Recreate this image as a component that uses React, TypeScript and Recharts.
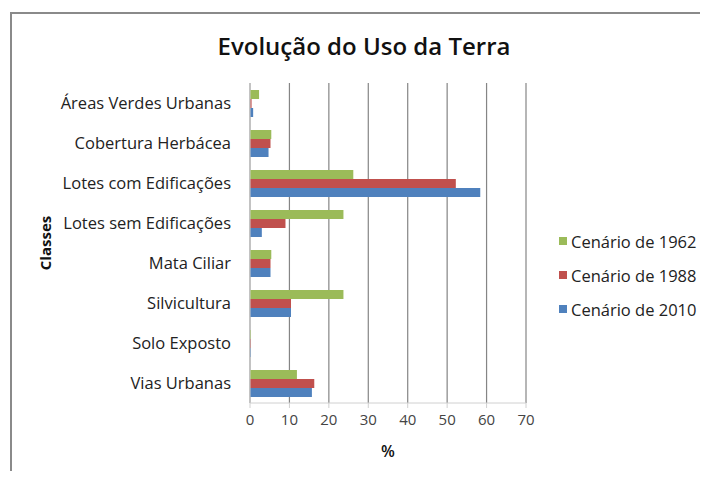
import React from "react";
import { BarChart, Bar, XAxis, YAxis, CartesianGrid } from "recharts";

// Land use classes (top to bottom)
const CLASSES = [
  "Áreas Verdes Urbanas",
  "Cobertura Herbácea",
  "Lotes com Edificações",
  "Lotes sem Edificações",
  "Mata Ciliar",
  "Silvicultura",
  "Solo Exposto",
  "Vias Urbanas",
];

// % per scenario
const CENARIO_1962 = [2.3, 5.4, 26.2, 23.7, 5.4, 23.7, 0.25, 11.9];
const CENARIO_1988 = [0.4, 5.2, 52.2, 9.0, 5.2, 10.4, 0.2, 16.3];
const CENARIO_2010 = [0.8, 4.7, 58.4, 3.0, 5.2, 10.4, 0.2, 15.7];

const X_TICKS = [0, 10, 20, 30, 40, 50, 60, 70];

const SERIES = [
  { key: "c1962", name: "Cenário de 1962", color: "#9BBB59" },
  { key: "c1988", name: "Cenário de 1988", color: "#C0504D" },
  { key: "c2010", name: "Cenário de 2010", color: "#4F81BD" },
];

const data = CLASSES.map((classe, i) => ({
  classe,
  c1962: CENARIO_1962[i],
  c1988: CENARIO_1988[i],
  c2010: CENARIO_2010[i],
}));

const FONT = "'Open Sans', 'Noto Sans', sans-serif";

export default function App() {
  return (
    <div style={{ position: "relative", width: 708, height: 479, margin: -8, background: "#fff", overflow: "hidden" }}>
      <div
        style={{
          position: "absolute",
          left: 10,
          top: 12,
          right: 0,
          bottom: 0,
          borderTop: "2px solid #8a8a8a",
          borderLeft: "2px solid #8a8a8a",
        }}
      />
      <div
        style={{
          position: "absolute",
          left: 0,
          width: 728,
          top: 29,
          textAlign: "center",
          fontFamily: FONT,
          fontWeight: 600,
          fontSize: 24,
          lineHeight: "34px",
          color: "#111",
        }}
      >
        Evolução do Uso da Terra
      </div>
      <div style={{ position: "absolute", left: 0, top: 0 }}>
        <BarChart
          layout="vertical"
          width={708}
          height={479}
          data={data}
          margin={{ top: 83, right: 182, bottom: 0, left: 30 }}
          barGap={0}
          barSize={9}
        >
          <CartesianGrid horizontal={false} stroke="#858585" strokeWidth={1.2} />
          <XAxis
            type="number"
            domain={[0, 70]}
            ticks={X_TICKS}
            interval={0}
            stroke="#d0d0d0"
            tickSize={5}
            tickMargin={6}
            tick={{ fill: "#444", fontSize: 15, fontFamily: FONT }}
            label={{ value: "%", position: "insideBottom", offset: 22, fill: "#111", fontSize: 16, fontWeight: 600, fontFamily: FONT }}
            height={76}
          />
          <YAxis
            type="category"
            dataKey="classe"
            width={220}
            stroke="#d0d0d0"
            tickLine={false}
            tickMargin={13}
            interval={0}
            tick={{ fill: "#222", fontSize: 16.5, fontFamily: FONT }}
          />
          {SERIES.map((s) => (
            <Bar key={s.key} dataKey={s.key} name={s.name} fill={s.color} isAnimationActive={false} />
          ))}
        </BarChart>
      </div>
      <div
        style={{
          position: "absolute",
          left: 45,
          top: 243,
          transform: "translate(-50%, -50%) rotate(-90deg)",
          fontFamily: FONT,
          fontWeight: 700,
          fontSize: 15,
          color: "#111",
          whiteSpace: "nowrap",
        }}
      >
        Classes
      </div>
      <div style={{ position: "absolute", left: 559, top: 224, fontFamily: FONT, fontSize: 16.5, color: "#222" }}>
        {SERIES.map((s) => (
          <div key={s.key} style={{ display: "flex", alignItems: "center", height: 34, whiteSpace: "nowrap" }}>
            <span style={{ width: 8, height: 8, background: s.color, marginRight: 4, display: "inline-block" }} />
            {s.name}
          </div>
        ))}
      </div>
    </div>
  );
}
